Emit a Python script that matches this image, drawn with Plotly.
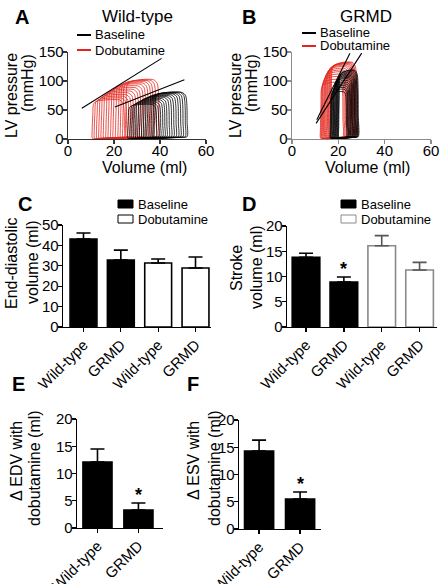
import plotly.graph_objects as go

FONT = "Liberation Sans, Arial, Helvetica, sans-serif"
W, H = 448, 584
RED = "#e3241d"

# ---------------- Panel A / B : pressure-volume loops ----------------
# each loop: end-systolic volume (ml), end-diastolic volume (ml), peak LV pressure (mmHg)
wt_base_esv = [26.0, 27.0, 27.8, 28.6, 29.4, 30.3, 31.1, 32.0, 32.8, 33.6, 34.4, 35.3, 36.1, 36.9, 37.5]
wt_base_edv = [38.5, 39.4, 40.3, 41.2, 42.1, 43.0, 44.0, 45.0, 46.0, 47.0, 48.0, 49.0, 50.0, 51.0, 51.8]
wt_base_pk  = [60, 62, 64, 66, 68, 70, 72, 73.5, 75, 76.5, 78, 79, 80, 81, 81]

wt_dob_esv = [10.5, 11.4, 12.4, 13.4, 14.4, 15.4, 16.5, 17.5, 18.6, 19.6, 20.7, 21.8, 22.8, 23.8, 25.0]
wt_dob_edv = [24.5, 25.5, 26.5, 27.5, 28.5, 29.6, 30.7, 31.7, 32.8, 33.8, 34.9, 36.0, 37.0, 38.2, 39.5]
wt_dob_pk  = [68, 71, 74, 77, 80, 83, 86, 89, 92, 95, 97, 99, 101, 102, 103]

grmd_base_esv = [16.5, 16.8, 17.0, 17.3, 17.6, 17.8, 18.0, 18.3, 18.5, 18.8, 19.0, 19.2, 19.5, 19.7, 20.0, 20.2]
grmd_base_edv = [23.5, 23.9, 24.2, 24.6, 25.0, 25.3, 25.7, 26.0, 26.3, 26.7, 27.0, 27.3, 27.6, 28.0, 28.3, 28.6]
grmd_base_pk  = [82, 86, 89, 92, 95, 98, 101, 104, 106, 108, 110, 112, 114, 116, 118, 119]

grmd_dob_esv = [12.3, 12.6, 12.9, 13.2, 13.6, 13.9, 14.2, 14.6, 15.0, 15.3, 15.7, 16.0, 16.4, 16.8]
grmd_dob_edv = [22.0, 22.5, 23.0, 23.4, 23.9, 24.3, 24.8, 25.2, 25.7, 26.1, 26.6, 27.0, 27.5, 28.0]
grmd_dob_pk  = [98, 103, 108, 112, 116, 119, 122, 125, 127, 129, 130, 131, 132, 133]

# end-systolic pressure-volume relation lines (volume, pressure endpoints)
wt_espvr_dob_v, wt_espvr_dob_p = [6.0, 40.7], [53, 139]
wt_espvr_base_v, wt_espvr_base_p = [20.4, 50.6], [55, 102]
grmd_espvr_dob_v, grmd_espvr_dob_p = [10.7, 25.0], [33, 148]
grmd_espvr_base_v, grmd_espvr_base_p = [10.4, 30.1], [27, 148]

# ---------------- Panel C : end-diastolic volume ----------------
cd_labels = ["Wild-type", "GRMD", "Wild-type", "GRMD"]
edv_vals = [43.1, 32.8, 31.4, 28.9]
edv_errs = [3.0, 4.9, 1.9, 5.4]

# ---------------- Panel D : stroke volume ----------------
sv_vals = [13.8, 8.9, 16.1, 11.3]
sv_errs = [0.8, 1.0, 2.0, 1.5]
sv_star = [False, True, False, False]

# ---------------- Panel E / F : change with dobutamine ----------------
ef_labels = ["Wild-type", "GRMD"]
dedv_vals = [12.1, 3.3]
dedv_errs = [2.4, 1.3]
desv_vals = [14.3, 5.5]
desv_errs = [2.0, 1.3]
ef_star = [False, True]

# loop outline template: fraction along (ESV->EDV), fraction of peak, absolute offset
tmpl = [(1.00, 0.00, 4), (1.00, 0.35, 0), (0.99, 0.75, 0), (0.95, 0.93, 0),
        (0.85, 0.99, 0), (0.65, 1.00, 0), (0.40, 0.99, 0), (0.15, 0.96, 0),
        (0.05, 0.90, 0), (0.02, 0.60, 0), (0.00, 0.20, 0), (0.01, 0.00, 1),
        (0.15, 0.00, 1), (0.50, 0.00, 2), (0.85, 0.00, 3), (1.00, 0.00, 4)]


def loops(esv, edv, pk):
    xs, ys = [], []
    for a, b, p in zip(esv, edv, pk):
        for u, q, o in tmpl:
            xs.append(a + u * (b - a))
            ys.append(q * p + o)
        xs.append(None)
        ys.append(None)
    return xs, ys


def px(v):
    return v / W


def py(v):
    return 1 - v / H


fig = go.Figure()

# PV loops
for (esv, edv, pk, col, xa, ya) in [
    (wt_dob_esv, wt_dob_edv, wt_dob_pk, RED, "x", "y"),
    (wt_base_esv, wt_base_edv, wt_base_pk, "black", "x", "y"),
    (grmd_dob_esv, grmd_dob_edv, grmd_dob_pk, RED, "x2", "y2"),
    (grmd_base_esv, grmd_base_edv, grmd_base_pk, "black", "x2", "y2"),
]:
    lx, ly = loops(esv, edv, pk)
    fig.add_trace(go.Scatter(x=lx, y=ly, mode="lines", xaxis=xa, yaxis=ya,
                             line=dict(color=col, width=0.8, shape="spline", smoothing=0.8),
                             showlegend=False, hoverinfo="skip"))

for (vv, pp, xa, ya) in [
    (wt_espvr_dob_v, wt_espvr_dob_p, "x", "y"),
    (wt_espvr_base_v, wt_espvr_base_p, "x", "y"),
    (grmd_espvr_dob_v, grmd_espvr_dob_p, "x2", "y2"),
    (grmd_espvr_base_v, grmd_espvr_base_p, "x2", "y2"),
]:
    fig.add_trace(go.Scatter(x=vv, y=pp, mode="lines", xaxis=xa, yaxis=ya,
                             line=dict(color="black", width=1.1),
                             showlegend=False, hoverinfo="skip"))


def bars(vals, errs, fills, lines, ecols, xa, ya, width):
    idx = list(range(len(vals)))
    for i in idx:
        fig.add_trace(go.Bar(x=[i], y=[vals[i]], xaxis=xa, yaxis=ya, width=width,
                             marker=dict(color=fills[i], line=dict(color=lines[i], width=1.6)),
                             error_y=dict(type="data", array=[errs[i]], arrayminus=[0],
                                          symmetric=False, color=ecols[i], thickness=1.6, width=7),
                             showlegend=False, hoverinfo="skip"))


bars(edv_vals, edv_errs, ["black", "black", "white", "white"],
     ["black"] * 4, ["black"] * 4, "x3", "y3", 0.72)
bars(sv_vals, sv_errs, ["black", "black", "white", "white"],
     ["black", "black", "#8a8a8a", "#8a8a8a"], ["black", "black", "#555", "#555"], "x4", "y4", 0.73)
bars(dedv_vals, dedv_errs, ["black"] * 2, ["black"] * 2, ["black"] * 2, "x5", "y5", 0.71)
bars(desv_vals, desv_errs, ["black"] * 2, ["black"] * 2, ["black"] * 2, "x6", "y6", 0.71)

axc = dict(showgrid=False, zeroline=False, showline=True, linewidth=1.3, linecolor="black",
           ticks="outside", ticklen=4, tickwidth=1.3, tickcolor="black", automargin=False,
           tickfont=dict(family=FONT, size=15, color="black"), fixedrange=True)
ys_off = dict(ticklabelstandoff=-4)
xs_off = dict(ticklabelstandoff=-6)
xr_off = dict(ticklabelstandoff=-2)


def xdom(a, b):
    return [px(a), px(b)]


def ydom(top, bot):
    return [py(bot), py(top)]


lay = {}
# A
lay["xaxis"] = dict(axc, **xs_off, domain=xdom(68, 206), range=[0, 60], tickvals=[0, 20, 40, 60],
                    anchor="y", linecolor="#333", tickcolor="#333")
lay["yaxis"] = dict(axc, **ys_off, domain=ydom(52, 139), range=[0, 150], tickvals=[0, 50, 100, 150],
                    anchor="x", linecolor="#333", tickcolor="#333")
# B
lay["xaxis2"] = dict(axc, **xs_off, domain=xdom(292, 431), range=[0, 60], tickvals=[0, 20, 40, 60],
                     anchor="y2", linecolor="#8c8c8c", tickcolor="#8c8c8c")
lay["yaxis2"] = dict(axc, **ys_off, domain=ydom(52, 139), range=[0, 150], tickvals=[0, 50, 100, 150],
                     anchor="x2", linecolor="#8c8c8c", tickcolor="#8c8c8c")
# C
lay["xaxis3"] = dict(axc, **xr_off, domain=xdom(63, 211), range=[-0.549, 3.415], tickvals=[0, 1, 2, 3],
                     ticktext=cd_labels, tickangle=-45, anchor="y3")
lay["yaxis3"] = dict(axc, **ys_off, domain=ydom(225, 327), range=[0, 50], tickvals=[0, 10, 20, 30, 40, 50],
                     anchor="x3")
# D
lay["xaxis4"] = dict(axc, **xr_off, domain=xdom(287, 437), range=[-0.502, 3.46], tickvals=[0, 1, 2, 3],
                     ticktext=cd_labels, tickangle=-45, anchor="y4")
lay["yaxis4"] = dict(axc, **ys_off, domain=ydom(226, 327), range=[0, 20], tickvals=[0, 5, 10, 15, 20],
                     anchor="x4")
# E
lay["xaxis5"] = dict(axc, **xr_off, domain=xdom(77, 163), range=[-0.5, 1.6], tickvals=[0, 1],
                     ticktext=ef_labels, tickangle=-45, anchor="y5")
lay["yaxis5"] = dict(axc, **ys_off, domain=ydom(419, 528), range=[0, 20], tickvals=[0, 5, 10, 15, 20],
                     anchor="x5")
# F
lay["xaxis6"] = dict(axc, **xr_off, domain=xdom(239, 321), range=[-0.49, 1.51], tickvals=[0, 1],
                     ticktext=ef_labels, tickangle=-45, anchor="y6")
lay["yaxis6"] = dict(axc, **ys_off, domain=ydom(420, 529), range=[0, 20], tickvals=[0, 5, 10, 15, 20],
                     anchor="x6")

ann = []


def txt(x, y, s, size=15, bold=False, angle=0, xanchor="center"):
    ann.append(dict(x=px(x), y=py(y), xref="paper", yref="paper", text=("<b>%s</b>" % s) if bold else s,
                    showarrow=False, textangle=angle, xanchor=xanchor, yanchor="middle",
                    font=dict(family=FONT, size=size, color="black")))


# panel letters
for (lx, ly, l) in [(22, 17, "A"), (249, 17, "B"), (25, 204, "C"), (249, 204, "D"),
                    (18, 384, "E"), (193, 384, "F")]:
    txt(lx, ly, l, size=20, bold=True)

# titles
txt(137, 17, "Wild-type", size=17)
txt(366, 16, "GRMD", size=17)
txt(144, 167, "Volume (ml)", size=16)
txt(367, 167, "Volume (ml)", size=16)

# y titles
txt(11, 96, "LV pressure", size=16, angle=-90)
txt(28, 83, "(mmHg)", size=16, angle=-90)
txt(235, 96, "LV pressure", size=16, angle=-90)
txt(252, 83, "(mmHg)", size=16, angle=-90)
txt(11, 263, "End-diastolic", size=16, angle=-90)
txt(32, 262, "volume (ml)", size=16, angle=-90)
txt(236, 268, "Stroke", size=16, angle=-90)
txt(256, 267, "volume (ml)", size=16, angle=-90)
txt(16, 461, "Δ EDV with", size=16, angle=-90)
txt(34, 468, "dobutamine (ml)", size=16, angle=-90)
txt(193, 461, "Δ ESV with", size=16, angle=-90)
txt(214, 468, "dobutamine (ml)", size=16, angle=-90)

# legends A/B (line swatches)
shapes = []
for (x0, y1, y2) in [(77, 35, 50), (302, 33, 46)]:
    shapes.append(dict(type="line", xref="paper", yref="paper", x0=px(x0), x1=px(x0 + 14),
                       y0=py(y1), y1=py(y1), line=dict(color="black", width=2)))
    shapes.append(dict(type="line", xref="paper", yref="paper", x0=px(x0), x1=px(x0 + 14),
                       y0=py(y2), y1=py(y2), line=dict(color=RED, width=2)))
    txt(x0 + 16, y1, "Baseline", size=13, xanchor="left")
    txt(x0 + 16, y2, "Dobutamine", size=13, xanchor="left")

# legends C/D (box swatches)
for (x0, ocol) in [(118, "black"), (341, "#8a8a8a")]:
    shapes.append(dict(type="rect", xref="paper", yref="paper", x0=px(x0), x1=px(x0 + 15),
                       y0=py(208), y1=py(200), fillcolor="black", line=dict(color="black", width=1)))
    shapes.append(dict(type="rect", xref="paper", yref="paper", x0=px(x0), x1=px(x0 + 15),
                       y0=py(223), y1=py(215), fillcolor="white", line=dict(color=ocol, width=1)))
    txt(x0 + 18, 204, "Baseline", size=13, xanchor="left")
    txt(x0 + 18, 219, "Dobutamine", size=13, xanchor="left")

# significance stars
for (vals, errs, stars, xa, ya) in [(sv_vals, sv_errs, sv_star, "x4", "y4"),
                                    (dedv_vals, dedv_errs, ef_star, "x5", "y5"),
                                    (desv_vals, desv_errs, ef_star, "x6", "y6")]:
    for i, s in enumerate(stars):
        if s:
            ann.append(dict(x=i, y=vals[i] + errs[i], xref=xa, yref=ya, text="<b>*</b>",
                            showarrow=False, yanchor="bottom", yshift=-4,
                            font=dict(family=FONT, size=18, color="black")))

fig.update_layout(template="none", width=W, height=H, margin=dict(l=0, r=0, t=0, b=0, pad=0),
                  autosize=False, paper_bgcolor="white", plot_bgcolor="white", showlegend=False,
                  bargap=0, annotations=ann, shapes=shapes, **lay)

fig.write_html("out.html", config={"displayModeBar": False, "staticPlot": True},
               post_script="document.body.style.margin='0';document.body.style.padding='0';")
